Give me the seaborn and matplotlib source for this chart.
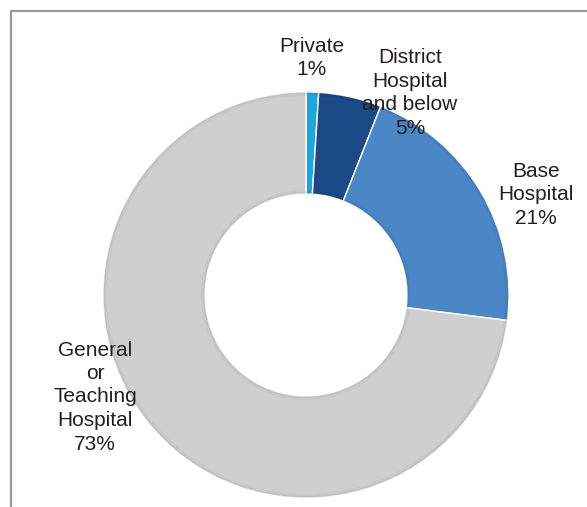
import matplotlib
matplotlib.use("Agg")
import matplotlib.pyplot as plt
import seaborn as sns
from matplotlib.lines import Line2D
from matplotlib.patches import Wedge

sns.set_theme(style="white")
plt.rcParams['font.family'] = ['Liberation Sans', 'DejaVu Sans']

categories = ["Private", "District\nHospital\nand below", "Base\nHospital", "General\nor\nTeaching\nHospital"]
values = [1, 5, 21, 73]
pct_labels = ["1%", "5%", "21%", "73%"]
colors = ["#1fa6df", "#1b4a86", "#4b86c7", "#cfcfcf"]
# label anchor positions in pixels (centre of text block)
label_pos = [(312, 58), (410, 93), (536, 195), (95, 397)]

W, H = 587, 507
fig = plt.figure(figsize=(W / 100, H / 100), dpi=100)
ax = fig.add_axes([0, 0, 1, 1])

cx, cy = 306, H - 295
R = 203
wedges, _ = ax.pie(values, colors=colors, startangle=90, counterclock=False,
                   center=(cx, cy), radius=R, frame=True,
                   wedgeprops=dict(width=102, edgecolor="white", linewidth=1.0))
ax.set_xlim(0, W)
ax.set_ylim(0, H)
ax.axis("off")

# subtle bevel-like shading on the rings
for w in wedges:
    th1, th2 = w.theta1, w.theta2
    for k, a in [(2, 0.04), (4, 0.03)]:
        ax.add_patch(Wedge((cx, cy), R, th1, th2, width=k, facecolor="black", alpha=a, edgecolor="none"))
        ax.add_patch(Wedge((cx, cy), R - 102 + k, th1, th2, width=k, facecolor="black", alpha=a, edgecolor="none"))

for cat, pct, (px, py) in zip(categories, pct_labels, label_pos):
    ax.text(px, H - py, f"{cat}\n{pct}", ha="center", va="center", fontsize=15,
            color="#231f20", linespacing=1.3)

# figure border (left and top)
fig.add_artist(Line2D([11 / W, 11 / W, 1.0], [0, 1 - 11 / H, 1 - 11 / H],
                      transform=fig.transFigure, color="#9a9a9a", linewidth=1.6))

fig.savefig("out.png", dpi=100)
